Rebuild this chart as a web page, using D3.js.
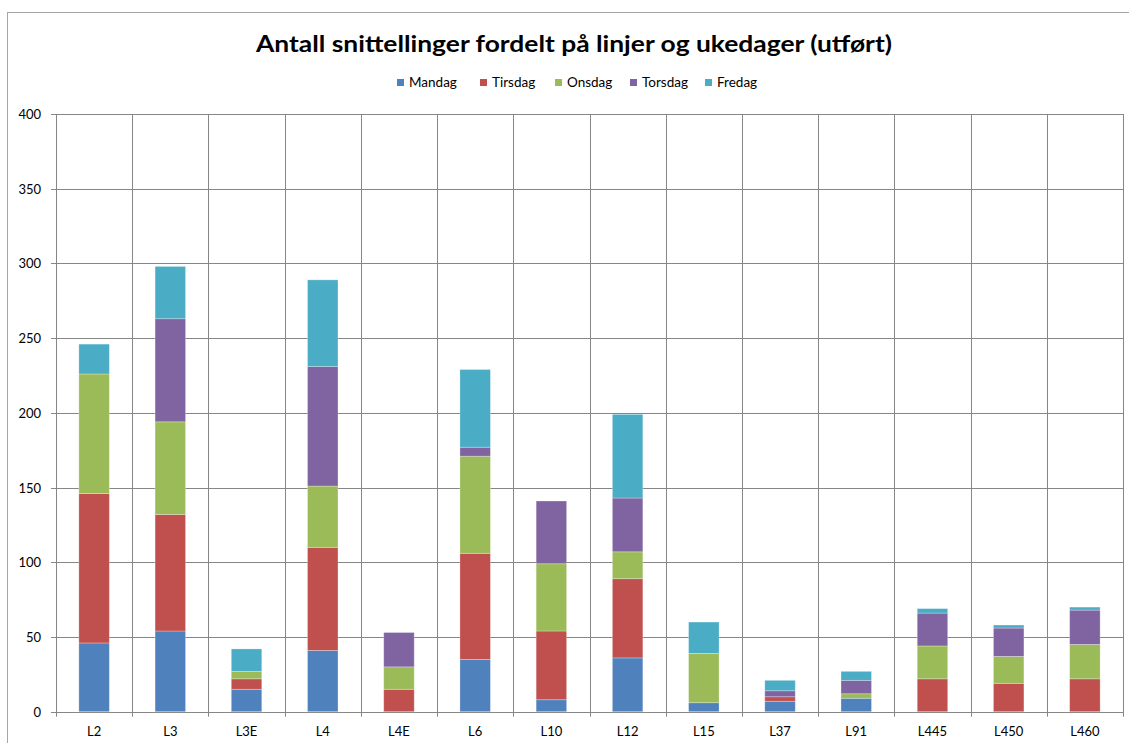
<!DOCTYPE html>
<html>
<head>
<meta charset="utf-8">
<script src="https://cdn.jsdelivr.net/npm/d3@7"></script>
<style>
  body { margin: 0; background: #fff; }
  svg { display: block; font-family: Lato, "Open Sans", sans-serif; }
</style>
</head>
<body>
<svg id="chart" width="1129" height="743"></svg>
<script>
// Data
const lines = ['L2', 'L3', 'L3E', 'L4', 'L4E', 'L6', 'L10', 'L12', 'L15', 'L37', 'L91', 'L445', 'L450', 'L460'];
const days = ['Mandag', 'Tirsdag', 'Onsdag', 'Torsdag', 'Fredag'];
const mandag  = [46, 54, 15, 41, 0, 35, 8, 36, 6, 7, 9, 0, 0, 0];
const tirsdag = [100, 78, 7, 69, 15, 71, 46, 53, 0, 3, 0, 22, 19, 22];
const onsdag  = [80, 62, 5, 41, 15, 65, 45, 18, 33, 0, 3, 22, 18, 23];
const torsdag = [0, 69, 0, 80, 23, 6, 42, 36, 0, 4, 9, 22, 19, 23];
const fredag  = [20, 35, 15, 58, 0, 52, 0, 56, 21, 7, 6, 3, 2, 2];
const yTicks = [0, 50, 100, 150, 200, 250, 300, 350, 400];
const colors = ['#4F81BD', '#C0504D', '#9BBB59', '#8064A2', '#4BACC6'];

document.addEventListener('DOMContentLoaded', function() {
  drawChart();
});

function drawChart() {
  const svg = d3.select('#chart');
  const margin = { top: 114, right: 6, bottom: 31, left: 56 };
  const width = 1129 - margin.left - margin.right;
  const height = 743 - margin.top - margin.bottom - 0.3;

  // chart frame
  svg.append('rect')
    .attr('x', 7.5).attr('y', 12.5)
    .attr('width', 1140).attr('height', 760)
    .attr('fill', 'none')
    .attr('stroke', '#a6a6a6');

  // title
  svg.append('text')
    .attr('x', 574).attr('y', 52)
    .attr('text-anchor', 'middle')
    .attr('font-weight', 'bold')
    .attr('font-size', 23)
    .attr('textLength', 636)
    .attr('lengthAdjust', 'spacingAndGlyphs')
    .text('Antall snittellinger fordelt på linjer og ukedager (utført)');

  // build stacked table
  const series = [mandag, tirsdag, onsdag, torsdag, fredag];
  const table = lines.map((l, i) => {
    const row = { line: l };
    days.forEach((d, j) => row[d] = series[j][i]);
    return row;
  });
  const stacked = d3.stack().keys(days)(table);

  const g = svg.append('g')
    .attr('transform', `translate(${margin.left}, ${margin.top})`);

  const xScale = d3.scaleBand()
    .domain(lines)
    .range([0, width])
    .paddingInner(0.6)
    .paddingOuter(0.3);

  const xEdges = d3.scaleLinear()
    .domain([0, lines.length])
    .range([0, width]);

  const yScale = d3.scaleLinear()
    .domain([0, 400])
    .range([height, 0]);

  // horizontal gridlines
  g.append('g')
    .selectAll('line')
    .data(yTicks)
    .enter()
    .append('line')
    .attr('x1', -5).attr('x2', width)
    .attr('y1', d => Math.round(yScale(d)) + 0.5)
    .attr('y2', d => Math.round(yScale(d)) + 0.5)
    .attr('stroke', '#868686');

  // vertical gridlines at category edges
  g.append('g')
    .selectAll('line')
    .data(d3.range(lines.length + 1))
    .enter()
    .append('line')
    .attr('x1', d => Math.round(xEdges(d)) + 0.5)
    .attr('x2', d => Math.round(xEdges(d)) + 0.5)
    .attr('y1', 0).attr('y2', height + 5)
    .attr('stroke', '#868686');

  // y tick labels
  g.append('g')
    .selectAll('text')
    .data(yTicks)
    .enter()
    .append('text')
    .attr('x', -15)
    .attr('y', d => yScale(d) + 5)
    .attr('text-anchor', 'end')
    .attr('font-size', 13)
    .attr('fill', '#000')
    .text(d => d);

  // x labels
  g.append('g')
    .selectAll('text')
    .data(lines)
    .enter()
    .append('text')
    .attr('x', d => xScale(d) + xScale.bandwidth() / 2)
    .attr('y', height + 24)
    .attr('text-anchor', 'middle')
    .attr('font-size', 13)
    .attr('fill', '#000')
    .text(d => d);

  // bars
  g.append('g')
    .selectAll('g')
    .data(stacked)
    .enter()
    .append('g')
    .attr('fill', (d, i) => colors[i])
    .selectAll('rect')
    .data(d => d)
    .enter()
    .append('rect')
    .attr('x', d => xScale(d.data.line))
    .attr('width', xScale.bandwidth())
    .attr('y', d => yScale(d[1]))
    .attr('height', d => yScale(d[0]) - yScale(d[1]))
    .attr('stroke', 'rgba(255,255,255,0.35)')
    .attr('stroke-width', 0.8);

  // legend
  const legendX = [397, 480, 555, 630, 705];
  const legendEntries = svg.append('g')
    .attr('class', 'legend')
    .selectAll('g')
    .data(days)
    .enter()
    .append('g')
    .attr('transform', (d, i) => `translate(${legendX[i]}, 79)`);

  legendEntries.append('rect')
    .attr('width', 7)
    .attr('height', 7)
    .attr('fill', (d, i) => colors[i]);

  legendEntries.append('text')
    .attr('x', 12)
    .attr('y', 8)
    .attr('font-size', 13.5)
    .attr('fill', '#000')
    .text(d => d);
}
</script>
</body>
</html>
